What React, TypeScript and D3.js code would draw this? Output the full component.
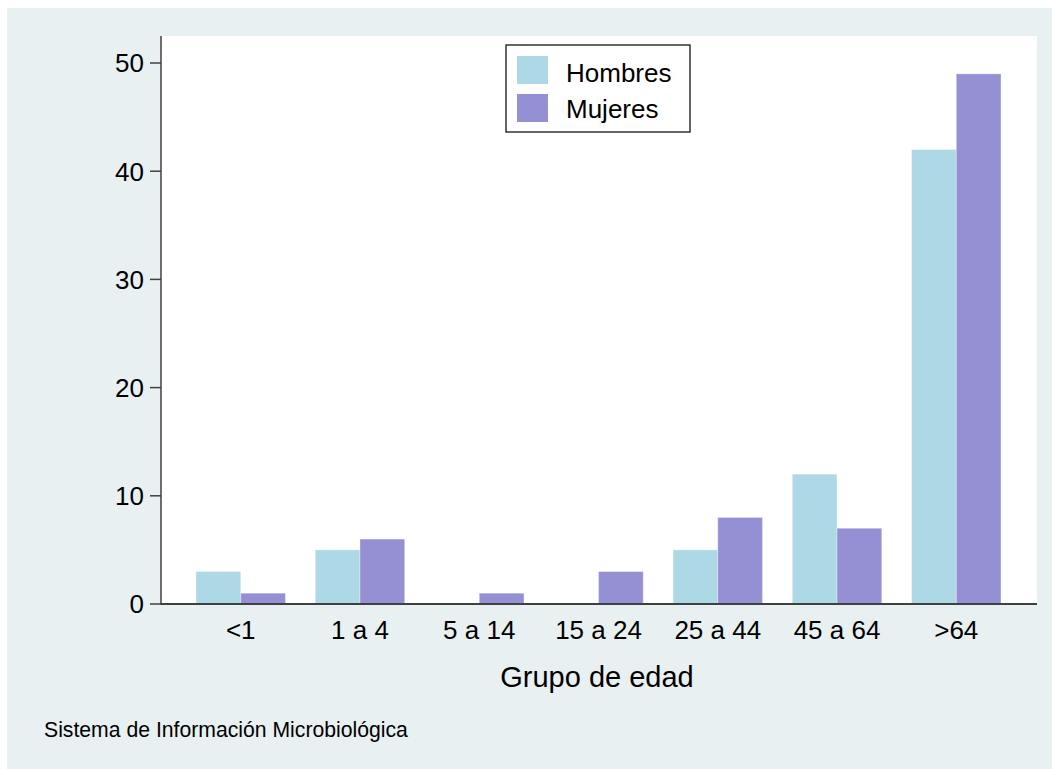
import React from 'react';
import * as d3 from 'd3';

const categories = ['<1', '1 a 4', '5 a 14', '15 a 24', '25 a 44', '45 a 64', '>64'];
const seriesNames = ['Hombres', 'Mujeres'];
const hombres = [3, 5, 0, 0, 5, 12, 42];
const mujeres = [1, 6, 1, 3, 8, 7, 49];
const yTicks = [0, 10, 20, 30, 40, 50];

const colors: Record<string, string> = {
  Hombres: '#add8e6',
  Mujeres: '#9590d4',
};

const W = 1052;
const H = 769;
const plot = { left: 161, right: 1037, top: 36, bottom: 604 };
const font = 'Liberation Sans, Arial, Helvetica, sans-serif';

export default function App() {
  const x0 = d3
    .scaleBand<string>()
    .domain(categories)
    .range([plot.left + 35, plot.right - 36])
    .paddingInner(0.25)
    .paddingOuter(0);
  const x1 = d3.scaleBand<string>().domain(seriesNames).range([0, x0.bandwidth()]);
  const y = d3.scaleLinear().domain([0, 50]).range([plot.bottom, 63]);

  const rows = categories.map((c, i) => ({ cat: c, Hombres: hombres[i], Mujeres: mujeres[i] }));

  return (
    <div style={{ position: 'absolute', left: 0, top: 0, width: W, height: H, overflow: 'hidden' }}>
      <svg width={W} height={H} style={{ display: 'block', fontFamily: font }}>
        <rect x={7} y={8} width={W - 7} height={H - 8} fill="#e8f0f2" />
        <rect x={plot.left} y={plot.top} width={plot.right - plot.left} height={plot.bottom - plot.top} fill="#ffffff" />

        {rows.map((r) => (
          <g key={r.cat} transform={`translate(${x0(r.cat)},0)`}>
            {seriesNames.map((s) => {
              const v = (r as any)[s] as number;
              if (v <= 0) return null;
              return (
                <rect
                  key={s}
                  x={x1(s)}
                  y={y(v)}
                  width={x1.bandwidth()}
                  height={y(0) - y(v)}
                  fill={colors[s]}
                  stroke="#ffffff"
                  strokeOpacity={0.35}
                  strokeWidth={1}
                />
              );
            })}
          </g>
        ))}

        {/* y axis */}
        <line x1={plot.left} x2={plot.left} y1={plot.top} y2={plot.bottom + 1} stroke="#404040" strokeWidth={1.5} />
        {yTicks.map((t) => (
          <g key={t}>
            <line x1={plot.left - 11} x2={plot.left} y1={y(t)} y2={y(t)} stroke="#404040" strokeWidth={1.5} />
            <text x={144} y={y(t)} dy="0.36em" textAnchor="end" fontSize={26} fill="#000">
              {t}
            </text>
          </g>
        ))}

        {/* x axis */}
        <line x1={plot.left} x2={plot.right} y1={plot.bottom} y2={plot.bottom} stroke="#404040" strokeWidth={2} />
        {categories.map((c) => (
          <text key={c} x={(x0(c) as number) + x0.bandwidth() / 2} y={639} textAnchor="middle" fontSize={26} fill="#000">
            {c}
          </text>
        ))}
        <text x={(plot.left + plot.right) / 2 - 2} y={687} textAnchor="middle" fontSize={29} fill="#000">
          Grupo de edad
        </text>

        {/* legend */}
        <rect x={506} y={45} width={184} height={87} fill="#ffffff" stroke="#000" strokeWidth={1.2} />
        {seriesNames.map((s, i) => (
          <g key={s}>
            <rect x={517} y={56 + i * 38} width={31} height={28} fill={colors[s]} />
            <text x={566} y={82 + i * 36} fontSize={26} fill="#000">
              {s}
            </text>
          </g>
        ))}

        <text x={44} y={737} fontSize={21.2} fill="#000">
          Sistema de Información Microbiológica
        </text>
      </svg>
    </div>
  );
}
